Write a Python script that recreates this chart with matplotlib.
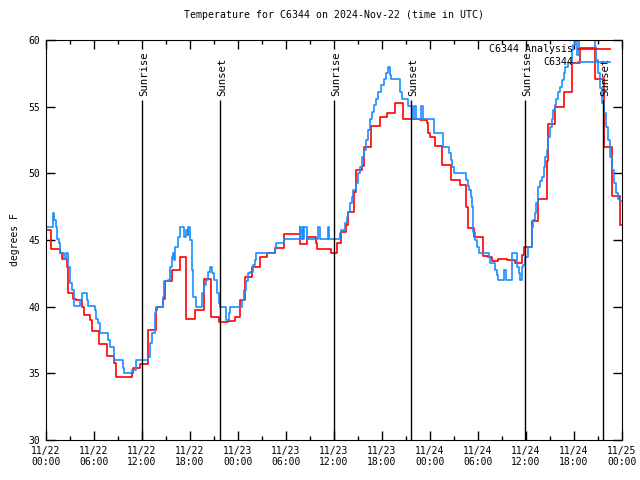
import matplotlib.pyplot as plt
import numpy as np

#########################
# data (hours since 11/22 00:00 UTC, deg F)
#########################

# analysis temperature (red steps)
ana_t = [0, 0.66, 1.75, 2.0, 2.6, 2.7, 3.4, 3.7, 4.5, 4.75, 5.5, 5.8, 6.6, 7.6, 8.5, 8.7,
         10.8, 10.9, 11.75, 12.75, 13.7, 13.9, 14.6, 14.9, 15.7, 16.7, 17.5, 18.6, 19.7,
         20.6, 21.6, 22.7, 23.6, 24.25, 24.9, 25.7, 26.7, 27.6, 28.6, 29.7, 31.7, 32.6,
         33.75, 33.9, 35.6, 36.4, 36.9, 37.5, 37.7, 38.5, 38.7, 39.5, 39.7, 40.6, 41.7,
         42.6, 43.6, 44.6, 45.6, 46.7, 47.6, 47.8, 48.0, 48.6, 49.5, 50.6, 51.7, 52.5,
         52.7, 53.5, 54.6, 55.3, 55.7, 56.5, 57.6, 58.6, 59.5, 59.8, 60.7, 61.5, 62.6,
         62.7, 63.6, 64.7, 65.7, 66.7, 68.6, 69.7, 70.7, 71.75, 72]
ana_v = [45.75, 44.3, 44.0, 43.6, 43.0, 41.0, 40.6, 40.5, 40.0, 39.4, 39.0, 38.2, 37.2, 36.3, 35.8, 34.75,
         35.05, 35.4, 35.7, 38.25, 39.75, 40.0, 40.6, 41.9, 42.75, 43.7, 39.1, 39.75, 42.05,
         39.25, 38.85, 38.95, 39.25, 40.5, 42.2, 43.0, 43.75, 44.0, 44.4, 45.45, 44.7, 45.2,
         44.75, 44.3, 44.05, 44.8, 45.6, 46.1, 47.1, 48.6, 50.25, 50.55, 51.95, 53.55, 54.2,
         54.55, 55.25, 54.05, 54.1, 54.0, 53.75, 53.0, 52.75, 52.05, 50.6, 49.5, 49.1, 47.5,
         45.9, 45.2, 43.8, 43.75, 43.4, 43.6, 43.5, 43.3, 43.9, 44.5, 46.4, 48.05, 50.9,
         53.7, 55.0, 56.1, 58.3, 59.4, 57.1, 52.0, 48.3, 46.1, 46.1]

# observed temperature (blue steps)
obs_t = [0, 0.85, 1.0, 1.2, 1.4, 1.6, 1.8, 2.3, 2.5, 2.7, 3.0, 3.3, 3.5, 4.25, 4.55, 5.1, 5.3,
         6.1, 6.3, 6.5, 6.7, 7.8, 8.0, 8.5, 9.6, 9.8, 10.8, 11.2, 11.3, 12.75, 12.95, 13.3,
         13.6, 13.8, 14.6, 14.8, 15.3, 15.5, 15.7, 15.85, 15.95, 16.1, 16.5, 16.75, 17.3,
         17.5, 17.7, 17.8, 18.0, 18.2, 18.4, 18.75, 19.5, 19.7, 20.0, 20.3, 20.5, 20.7,
         21.0, 21.4, 21.6, 21.8, 22.5, 22.9, 23.0, 24.5, 24.75, 25.0, 25.3, 25.5, 25.9,
         26.1, 26.3, 28.6, 28.8, 29.7, 31.7, 31.75, 31.95, 32.1, 32.2, 32.6, 34.0, 34.25,
         35.2, 35.4, 36.7, 36.85, 37.4, 37.6, 37.8, 38.0, 38.2, 38.4, 38.75, 38.96, 39.25,
         39.5, 39.7, 40.0, 40.2, 40.5, 40.8, 41.0, 41.25, 41.5, 41.9, 42.2, 42.5, 42.8,
         43.0, 43.1, 44.25, 44.5, 45.2, 45.7, 45.8, 46.05, 46.3, 46.9, 47.1, 48.5, 49.6,
         50.4, 50.6, 50.8, 51.0, 52.5, 52.7, 52.9, 53.1, 53.2, 53.34, 53.4, 53.6, 53.9,
         54.1, 55.4, 55.5, 56.1, 56.4, 56.5, 57.3, 57.5, 58.3, 58.9, 59.1, 59.3, 59.45,
         59.6, 59.9, 60.2, 60.7, 60.9, 61.1, 61.3, 61.5, 61.75, 61.96, 62.2, 62.4, 62.6,
         62.8, 63.0, 63.2, 63.4, 63.6, 63.8, 64.0, 64.25, 64.5, 64.7, 64.9, 65.3, 65.7,
         65.9, 66.1, 66.35, 66.6, 68.6, 68.8, 69.0, 69.3, 69.5, 69.7, 70.0, 70.2, 70.5,
         70.75, 71.0, 71.3, 71.5, 71.75, 72]
obs_v = [46.0, 47.0, 46.5, 46.0, 45.05, 44.75, 44.0, 43.55, 44.0, 43.0, 41.75, 41.25, 40.05, 40.5, 41.0, 40.5, 40.05,
         39.75, 39.05, 38.75, 38.0, 37.5, 37.0, 36.0, 35.4, 35.0, 35.25, 35.75, 36.0, 36.25, 37.25, 38.0,
         39.5, 40.0, 40.7, 41.9, 42.0, 43.0, 43.75, 44.0, 43.5, 44.5, 45.25, 46.0, 45.25,
         45.75, 45.4, 46.0, 45.0, 42.75, 40.75, 40.0, 41.0, 41.6, 42.0, 42.6, 43.0, 42.5,
         42.0, 41.0, 40.25, 40.0, 39.0, 39.5, 40.0, 40.5, 41.25, 41.9, 42.5, 42.6, 43.1,
         43.5, 44.0, 44.3, 44.75, 45.05, 46.0, 45.1, 46.0, 45.05, 46.0, 45.05, 46.0, 45.05,
         46.0, 45.05, 45.5, 45.75, 46.25, 46.75, 47.1, 47.75, 48.25, 48.75, 49.25, 50.0, 50.5,
         51.25, 51.75, 52.5, 53.25, 54.1, 54.6, 55.1, 55.6, 56.1, 56.6, 57.1, 57.5, 58.0,
         57.4, 57.05, 56.1, 55.55, 55.05, 54.5, 54.1, 55.05, 54.1, 55.05, 54.05, 53.0, 52.0,
         51.5, 51.0, 50.5, 50.05, 49.5, 49.05, 48.75, 48.25, 47.5, 46.25, 45.6, 45.0, 44.5,
         44.0, 43.75, 43.25, 42.75, 42.4, 42.0, 42.75, 42.0, 44.0, 43.0, 42.5, 42.0, 43.0,
         43.1, 43.75, 44.5, 46.0, 46.5, 47.0, 47.75, 49.0, 49.4, 49.75, 50.5, 51.25, 51.75,
         52.75, 53.5, 54.1, 54.75, 55.1, 55.6, 56.1, 56.5, 57.0, 57.5, 58.0, 58.25, 59.25,
         59.6, 61.0, 58.9, 61.0, 59.5, 58.5, 57.5, 56.4, 55.25, 54.5, 53.5, 52.5, 51.25,
         50.25, 49.25, 48.5, 48.1, 47.9, 47.9]

# sunrise / sunset markers
sun_t = [12.0, 21.75, 36.0, 45.625, 59.875, 69.625]
sun_lbl = ['Sunrise', 'Sunset', 'Sunrise', 'Sunset', 'Sunrise', 'Sunset']

# x tick labels
xtick_h = np.arange(0, 73, 6)
xtick_lbl = ['11/22\n00:00', '11/22\n06:00', '11/22\n12:00', '11/22\n18:00',
             '11/23\n00:00', '11/23\n06:00', '11/23\n12:00', '11/23\n18:00',
             '11/24\n00:00', '11/24\n06:00', '11/24\n12:00', '11/24\n18:00',
             '11/25\n00:00']

#################
# figure output #
#################

plt.rcParams['font.family'] = 'DejaVu Sans Mono'
plt.rcParams['font.size'] = 7

fig = plt.figure(figsize=(6.4, 4.8), dpi=100)
ax = fig.add_axes([46/640, 40/480, 576/640, 400/480])

ax.step(ana_t, ana_v, where='post', color='#ff0000', lw=1.2, label='C6344 Analysis')
ax.step(obs_t, obs_v, where='post', color='#1a8cff', lw=1.2, label='C6344')

# sunrise / sunset lines
for t, s in zip(sun_t, sun_lbl):
    ax.vlines(t, 30, 55.5, color='k', lw=1)
    ax.text(t + 0.3, 55.8, s, rotation=90, ha='center', va='bottom', fontsize=7.7)

ax.set_xlim(0, 72)
ax.set_ylim(30, 60)
ax.set_xticks(xtick_h)
ax.set_xticklabels(xtick_lbl)
ax.set_xticks(np.arange(3, 72, 6), minor=True)
ax.set_yticks(np.arange(30, 61, 5))
ax.tick_params(direction='in', top=True, right=True, length=6.5, width=1, pad=4)
ax.tick_params(which='minor', direction='in', top=True, length=3, width=1)

ax.set_ylabel('degrees F', labelpad=6)
ax.set_title('Temperature for C6344 on 2024-Nov-22 (time in UTC)', fontsize=7.1, pad=16)

ax.legend(loc='upper right', bbox_to_anchor=(0.995, 1.012), frameon=False, markerfirst=False,
          handlelength=3.2, handletextpad=0.5, labelspacing=0.3, fontsize=7.2)

plt.savefig('out.png', dpi=100)
